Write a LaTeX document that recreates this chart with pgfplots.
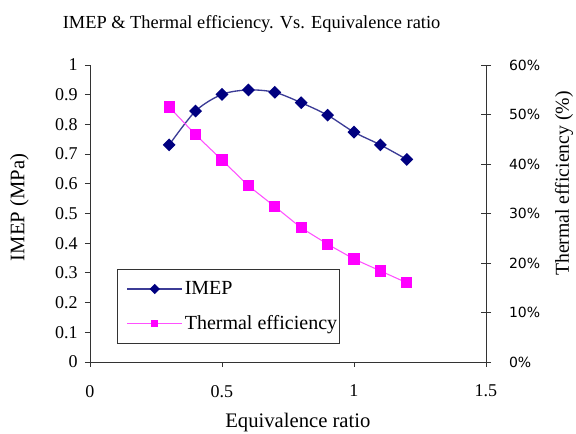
\documentclass[border=0pt]{standalone}
\usepackage{fontspec}
\setmainfont{Liberation Serif}
\newfontfamily\dejavu{DejaVu Sans}
\usepackage{pgfplots}
\pgfplotsset{compat=1.18}
\definecolor{navyc}{RGB}{0,0,128}
\definecolor{imepline}{RGB}{60,60,150}
\definecolor{magc}{RGB}{255,0,255}
\definecolor{maglight}{RGB}{255,80,255}
\begin{document}
\begin{tikzpicture}
\useasboundingbox (-67.5pt,-54pt) rectangle (364.5pt,271.5pt);
\begin{axis}[
  at={(0,0)}, anchor=south west,
  scale only axis, width=297pt, height=222.75pt,
  xmin=0, xmax=1.5, ymin=0, ymax=1,
  axis x line*=bottom, axis y line*=left,
  axis line style={black!80, line width=0.6pt},
  xtick={0,0.5,1,1.5}, xticklabels={\textrm{0},\textrm{0.5},\textrm{1},\textrm{1.5}},
  ytick={0,0.1,0.2,0.3,0.4,0.5,0.6,0.7,0.8,0.9,1},
  yticklabels={\textrm{0},\textrm{0.1},\textrm{0.2},\textrm{0.3},\textrm{0.4},\textrm{0.5},\textrm{0.6},\textrm{0.7},\textrm{0.8},\textrm{0.9},\textrm{1}},
  tick align=outside, major tick length=3.75pt,
  tick style={black!80, line width=0.6pt},
  tick label style={font=\rmfamily\fontsize{13.5}{15}\selectfont},
  xticklabel style={yshift=-10pt},
  yticklabel style={xshift=-2pt},
  title={IMEP \& Thermal efficiency. Vs. Equivalence ratio},
  title style={at={(axis description cs:0.408,1.11)}, anchor=center, font=\rmfamily\fontsize{13.8}{15}\selectfont},
  xlabel={Equivalence ratio},
  xlabel style={at={(axis description cs:0.525,-0.205)}, anchor=center, font=\rmfamily\fontsize{15.5}{17}\selectfont},
  ylabel={IMEP (MPa)},
  ylabel style={at={(axis description cs:-0.178,0.52)}, anchor=center, font=\rmfamily\fontsize{15.5}{17}\selectfont},
  clip=false,
]
\addplot[imepline, line width=1pt, smooth, mark=square*, mark size=2.9pt,
  mark options={rotate=45, fill=navyc, draw=navyc, solid}] coordinates {
  (0.3,0.731) (0.4,0.845) (0.5,0.901) (0.6,0.916) (0.7,0.908)
  (0.8,0.873) (0.9,0.831) (1.0,0.774) (1.1,0.731) (1.2,0.682)};
\end{axis}
\begin{axis}[
  at={(0,0)}, anchor=south west,
  scale only axis, width=297pt, height=222.75pt,
  xmin=0, xmax=1.5, ymin=0, ymax=60,
  axis x line=none, axis y line*=right,
  axis line style={black!80, line width=0.6pt},
  ytick={0,10,20,30,40,50,60},
  yticklabels={0\%,10\%,20\%,30\%,40\%,50\%,60\%},
  ytick align=center, major tick length=7.5pt,
  tick style={black!80, line width=0.6pt},
  yticklabel style={font=\dejavu\fontsize{10.5}{12}\selectfont, xshift=10pt},
  ylabel={Thermal efficiency (\%)},
  ylabel style={at={(axis description cs:1.197,0.601)}, anchor=center, font=\rmfamily\fontsize{14.8}{16}\selectfont},
  legend style={at={(axis description cs:0.068,0.061)}, anchor=south west,
    draw=black!80, line width=0.8pt, fill=white,
    font=\rmfamily\fontsize{15}{17}\selectfont, row sep=10pt, inner xsep=0pt, inner ysep=7pt,
    nodes={inner xsep=1.5pt}},
  legend cell align=left,
  legend image code/.code={\path (0pt,0pt) (48pt,0pt);
    \draw[#1, mark size=2.2pt, mark repeat=2, mark phase=2] plot coordinates {(7pt,0pt) (27.5pt,0pt) (48pt,0pt)};},
  clip=false,
]
\addlegendimage{imepline, line width=1pt, mark=square*,
  mark options={rotate=45, fill=navyc, draw=navyc, solid}}
\addlegendentry{IMEP}
\addplot[maglight, line width=0.8pt, mark=square*, mark size=3.8pt,
  mark options={fill=magc, draw=magc, solid}] coordinates {
  (0.3,51.5) (0.4,45.9) (0.5,40.8) (0.6,35.6) (0.7,31.4)
  (0.8,27.1) (0.9,23.8) (1.0,20.8) (1.1,18.4) (1.2,16.0)};
\addlegendentry{Thermal efficiency}
\end{axis}
\end{tikzpicture}
\end{document}
